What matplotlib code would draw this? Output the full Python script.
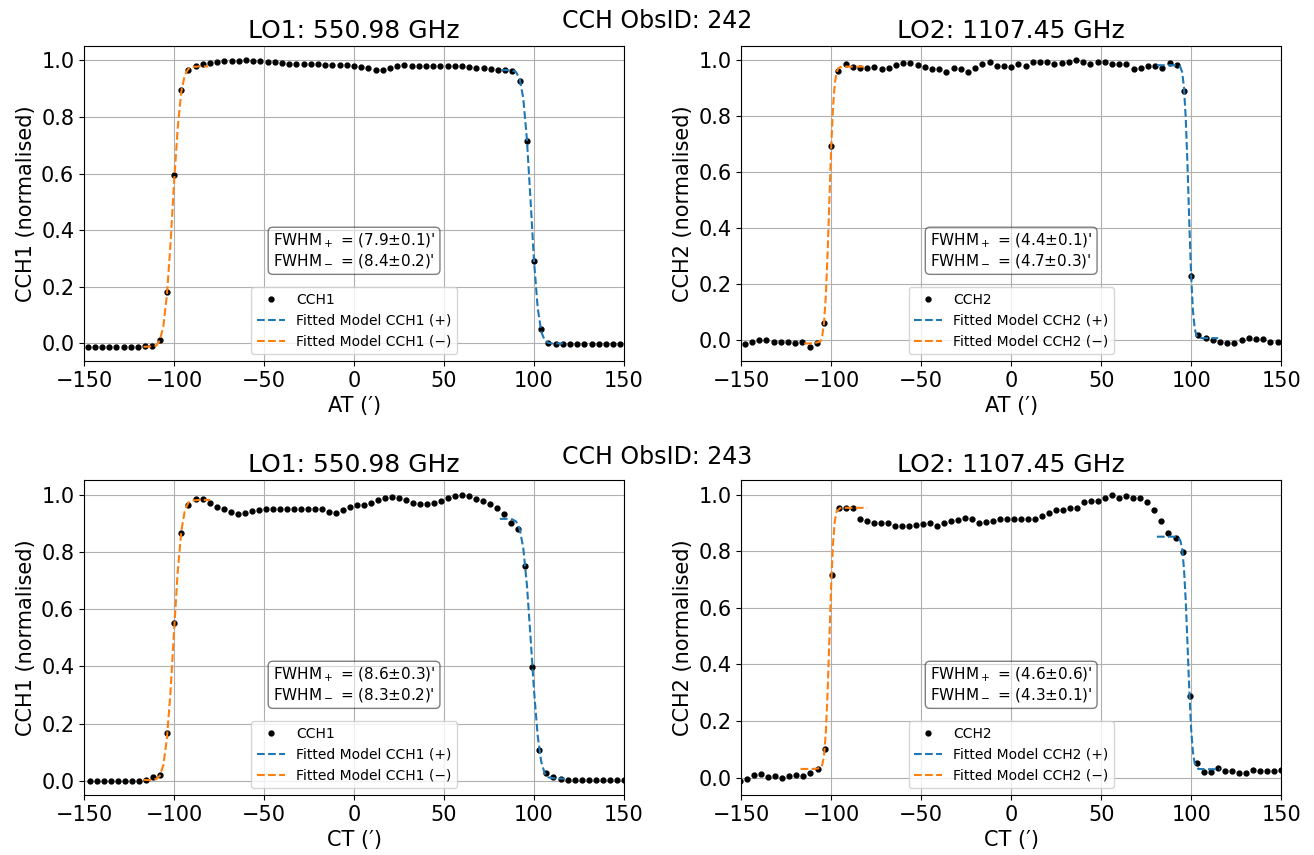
import numpy as np
import matplotlib.pyplot as plt

plt.rcParams.update({'font.size': 15})

# scan positions (arcmin): AT scans step 4', CT scans step ~3.9'
at_pos = [-148, -144, -140, -136, -132, -128, -124, -120, -116, -112,
          -108, -104, -100, -96, -92, -88, -84, -80, -76, -72,
          -68, -64, -60, -56, -52, -48, -44, -40, -36, -32,
          -28, -24, -20, -16, -12, -8, -4, 0, 4, 8,
          12, 16, 20, 24, 28, 32, 36, 40, 44, 48,
          52, 56, 60, 64, 68, 72, 76, 80, 84, 88,
          92, 96, 100, 104, 108, 112, 116, 120, 124, 128,
          132, 136, 140, 144, 148]
ct_pos = [-150.5, -146.6, -142.7, -138.8, -134.9, -131.0, -127.1, -123.2, -119.3, -115.4,
          -111.5, -107.6, -103.7, -99.8, -95.9, -92.0, -88.1, -84.2, -80.3, -76.4,
          -72.5, -68.6, -64.7, -60.8, -56.9, -53.0, -49.1, -45.2, -41.3, -37.4,
          -33.5, -29.6, -25.7, -21.8, -17.9, -14.0, -10.1, -6.2, -2.3, 1.6,
          5.5, 9.4, 13.3, 17.2, 21.1, 25.0, 28.9, 32.8, 36.7, 40.6,
          44.5, 48.4, 52.3, 56.2, 60.1, 64.0, 67.9, 71.8, 75.7, 79.6,
          83.5, 87.4, 91.3, 95.2, 99.1, 103.0, 106.9, 110.8, 114.7, 118.6,
          122.5, 126.4, 130.3, 134.2, 138.1, 142.0, 145.9, 149.8]

# ObsID 242 (AT)
cch1_242 = [-0.012, -0.012, -0.012, -0.012, -0.012, -0.012, -0.012, -0.011, -0.008, -0.010,
            0.012, 0.183, 0.596, 0.894, 0.965, 0.979, 0.986, 0.991, 0.995, 0.998,
            0.998, 0.998, 1.000, 0.999, 0.998, 0.995, 0.993, 0.991, 0.988, 0.988,
            0.987, 0.986, 0.986, 0.985, 0.984, 0.983, 0.983, 0.981, 0.976, 0.972,
            0.967, 0.967, 0.972, 0.979, 0.983, 0.981, 0.981, 0.981, 0.981, 0.981,
            0.979, 0.979, 0.979, 0.976, 0.974, 0.972, 0.969, 0.967, 0.965, 0.962,
            0.929, 0.717, 0.290, 0.052, 0.000, -0.001, -0.001, -0.001, -0.001, -0.001,
            -0.001, -0.001, -0.001, -0.001, -0.001]
cch2_242 = [-0.016, -0.007, -0.001, -0.001, -0.007, -0.007, -0.007, -0.013, -0.007, -0.025,
            -0.012, 0.059, 0.695, 0.961, 0.986, 0.978, 0.972, 0.972, 0.978, 0.970,
            0.974, 0.984, 0.992, 0.990, 0.984, 0.978, 0.970, 0.968, 0.958, 0.972,
            0.968, 0.957, 0.972, 0.988, 0.996, 0.980, 0.982, 0.978, 0.987, 0.982,
            0.996, 0.996, 0.994, 0.988, 0.992, 0.996, 1.000, 0.996, 0.986, 0.996,
            0.996, 0.988, 0.986, 0.986, 0.968, 0.972, 0.980, 0.982, 0.974, 0.992,
            0.984, 0.892, 0.227, 0.018, 0.005, 0.000, -0.007, -0.013, -0.013, -0.001,
            0.008, 0.002, 0.002, -0.007, -0.007]

# ObsID 243 (CT) - CCH1 has no point at the first CT position
cch1_243 = [0.000, 0.000, 0.000, 0.000, 0.000, 0.000, 0.000, 0.000, 0.002, 0.012,
            0.021, 0.166, 0.551, 0.867, 0.963, 0.984, 0.984, 0.972, 0.957, 0.950,
            0.939, 0.933, 0.936, 0.943, 0.945, 0.949, 0.951, 0.951, 0.949, 0.949,
            0.949, 0.950, 0.950, 0.949, 0.939, 0.936, 0.947, 0.957, 0.962, 0.965,
            0.972, 0.980, 0.989, 0.992, 0.989, 0.982, 0.971, 0.966, 0.966, 0.972,
            0.978, 0.989, 0.995, 1.000, 0.995, 0.986, 0.978, 0.968, 0.953, 0.931,
            0.902, 0.881, 0.750, 0.399, 0.107, 0.026, 0.012, 0.006, 0.004, 0.004,
            0.004, 0.004, 0.004, 0.004, 0.004, 0.004, 0.004]
cch2_243 = [-0.011, -0.005, 0.009, 0.013, 0.001, 0.006, -0.002, 0.006, 0.009, 0.007,
            0.018, 0.031, 0.100, 0.715, 0.953, 0.953, 0.953, 0.912, 0.907, 0.900,
            0.898, 0.898, 0.888, 0.888, 0.888, 0.892, 0.895, 0.898, 0.889, 0.901,
            0.907, 0.909, 0.918, 0.913, 0.901, 0.904, 0.907, 0.912, 0.914, 0.913,
            0.913, 0.913, 0.915, 0.925, 0.933, 0.945, 0.947, 0.954, 0.951, 0.972,
            0.978, 0.978, 0.988, 1.000, 0.988, 0.995, 0.988, 0.986, 0.972, 0.945,
            0.906, 0.865, 0.847, 0.798, 0.288, 0.053, 0.019, 0.019, 0.035, 0.024,
            0.024, 0.015, 0.015, 0.027, 0.024, 0.024, 0.024, 0.027]

# fitted edge models: (+) falling edge, (-) rising edge
fit1_242_minus_x = [-117, -112, -110, -108, -106, -104, -102, -100, -98, -96, -94, -92, -90, -86, -81]
fit1_242_minus_y = [-0.012, -0.011, -0.008, 0.010, 0.059, 0.170, 0.351, 0.570, 0.760, 0.890, 0.950, 0.971, 0.977, 0.979, 0.979]
fit1_242_plus_x = [82, 86, 88, 90, 92, 94, 96, 98, 100, 102, 104, 106, 108, 110, 113, 116]
fit1_242_plus_y = [0.966, 0.966, 0.965, 0.959, 0.936, 0.867, 0.724, 0.512, 0.290, 0.127, 0.041, 0.010, 0.002, 0.000, 0.000, 0.000]

fit2_242_minus_x = [-115, -110, -106, -105, -104, -103, -102, -101, -100, -99, -98, -97, -96, -94, -90, -82]
fit2_242_minus_y = [-0.013, -0.013, -0.006, 0.012, 0.060, 0.156, 0.310, 0.502, 0.690, 0.832, 0.918, 0.958, 0.973, 0.978, 0.978, 0.978]
fit2_242_plus_x = [81, 86, 92, 94, 95, 96, 97, 98, 99, 100, 101, 102, 103, 104, 106, 110, 115]
fit2_242_plus_y = [0.983, 0.983, 0.983, 0.977, 0.958, 0.904, 0.793, 0.618, 0.413, 0.228, 0.103, 0.039, 0.015, 0.008, 0.006, 0.006, 0.006]

fit1_243_minus_x = [-117, -112, -110, -108, -106, -104, -102, -100, -98, -96, -94, -92, -90, -86, -80]
fit1_243_minus_y = [0.003, 0.003, 0.006, 0.017, 0.054, 0.147, 0.311, 0.525, 0.730, 0.872, 0.945, 0.972, 0.979, 0.981, 0.981]
fit1_243_plus_x = [81, 85, 88, 90, 92, 94, 96, 98, 100, 102, 104, 106, 108, 112, 117]
fit1_243_plus_y = [0.915, 0.915, 0.913, 0.906, 0.880, 0.814, 0.687, 0.507, 0.314, 0.159, 0.066, 0.025, 0.012, 0.008, 0.008]

fit2_243_minus_x = [-117, -110, -106, -105, -104, -103, -102, -101, -100, -99, -98, -97, -95, -92, -86, -80]
fit2_243_minus_y = [0.031, 0.031, 0.034, 0.044, 0.078, 0.158, 0.300, 0.492, 0.683, 0.826, 0.906, 0.940, 0.952, 0.953, 0.953, 0.953]
fit2_243_plus_x = [81, 86, 91, 93, 94, 95, 96, 97, 98, 99, 100, 101, 102, 104, 108, 116]
fit2_243_plus_y = [0.851, 0.851, 0.851, 0.848, 0.837, 0.808, 0.739, 0.623, 0.466, 0.302, 0.170, 0.089, 0.050, 0.031, 0.030, 0.030]

fwhm = [('7.9±0.1', '8.4±0.2'), ('4.4±0.1', '4.7±0.3'),
        ('8.6±0.3', '8.3±0.2'), ('4.6±0.6', '4.3±0.1')]
titles = ['LO1: 550.98 GHz', 'LO2: 1107.45 GHz', 'LO1: 550.98 GHz', 'LO2: 1107.45 GHz']

panels = [
    ('CCH1', 'AT', at_pos, cch1_242, fit1_242_plus_x, fit1_242_plus_y, fit1_242_minus_x, fit1_242_minus_y),
    ('CCH2', 'AT', at_pos, cch2_242, fit2_242_plus_x, fit2_242_plus_y, fit2_242_minus_x, fit2_242_minus_y),
    ('CCH1', 'CT', ct_pos[1:], cch1_243, fit1_243_plus_x, fit1_243_plus_y, fit1_243_minus_x, fit1_243_minus_y),
    ('CCH2', 'CT', ct_pos, cch2_243, fit2_243_plus_x, fit2_243_plus_y, fit2_243_minus_x, fit2_243_minus_y),
]

fig, axs = plt.subplots(2, 2, figsize=(13.14, 8.55))
plt.subplots_adjust(left=0.064, right=0.975, top=0.946, bottom=0.070, wspace=0.217, hspace=0.378)

for i, ax in enumerate(axs.flat):
    ch, scan, xp, yv, px, py, mx, my = panels[i]
    ax.plot(xp, yv, 'k.', markersize=7, label=ch)
    ax.plot(px, py, '--', color='tab:blue', label='Fitted Model %s (+)' % ch)
    ax.plot(mx, my, '--', color='tab:orange', label='Fitted Model %s (\u2212)' % ch)
    ax.set_xlim(-150, 150)
    ax.grid(True)
    ax.set_title(titles[i], fontsize=18)
    ax.set_xlabel('%s (\u2032)' % scan)
    ax.set_ylabel('%s (normalised)' % ch)
    ax.legend(loc='lower center', fontsize=10)
    txt = "FWHM$_+$ = (%s)'\nFWHM$_-$ = (%s)'" % fwhm[i]
    ax.text(0.5, 0.35, txt, transform=ax.transAxes, fontsize=11,
            ha='center', va='center', linespacing=1.1,
            bbox=dict(boxstyle='round', facecolor='white', alpha=0.5))

fig.text(0.5, 0.975, 'CCH ObsID: 242', ha='center', va='center', fontsize=17)
fig.text(0.5, 0.466, 'CCH ObsID: 243', ha='center', va='center', fontsize=17)

plt.savefig('out.png', dpi=100)
